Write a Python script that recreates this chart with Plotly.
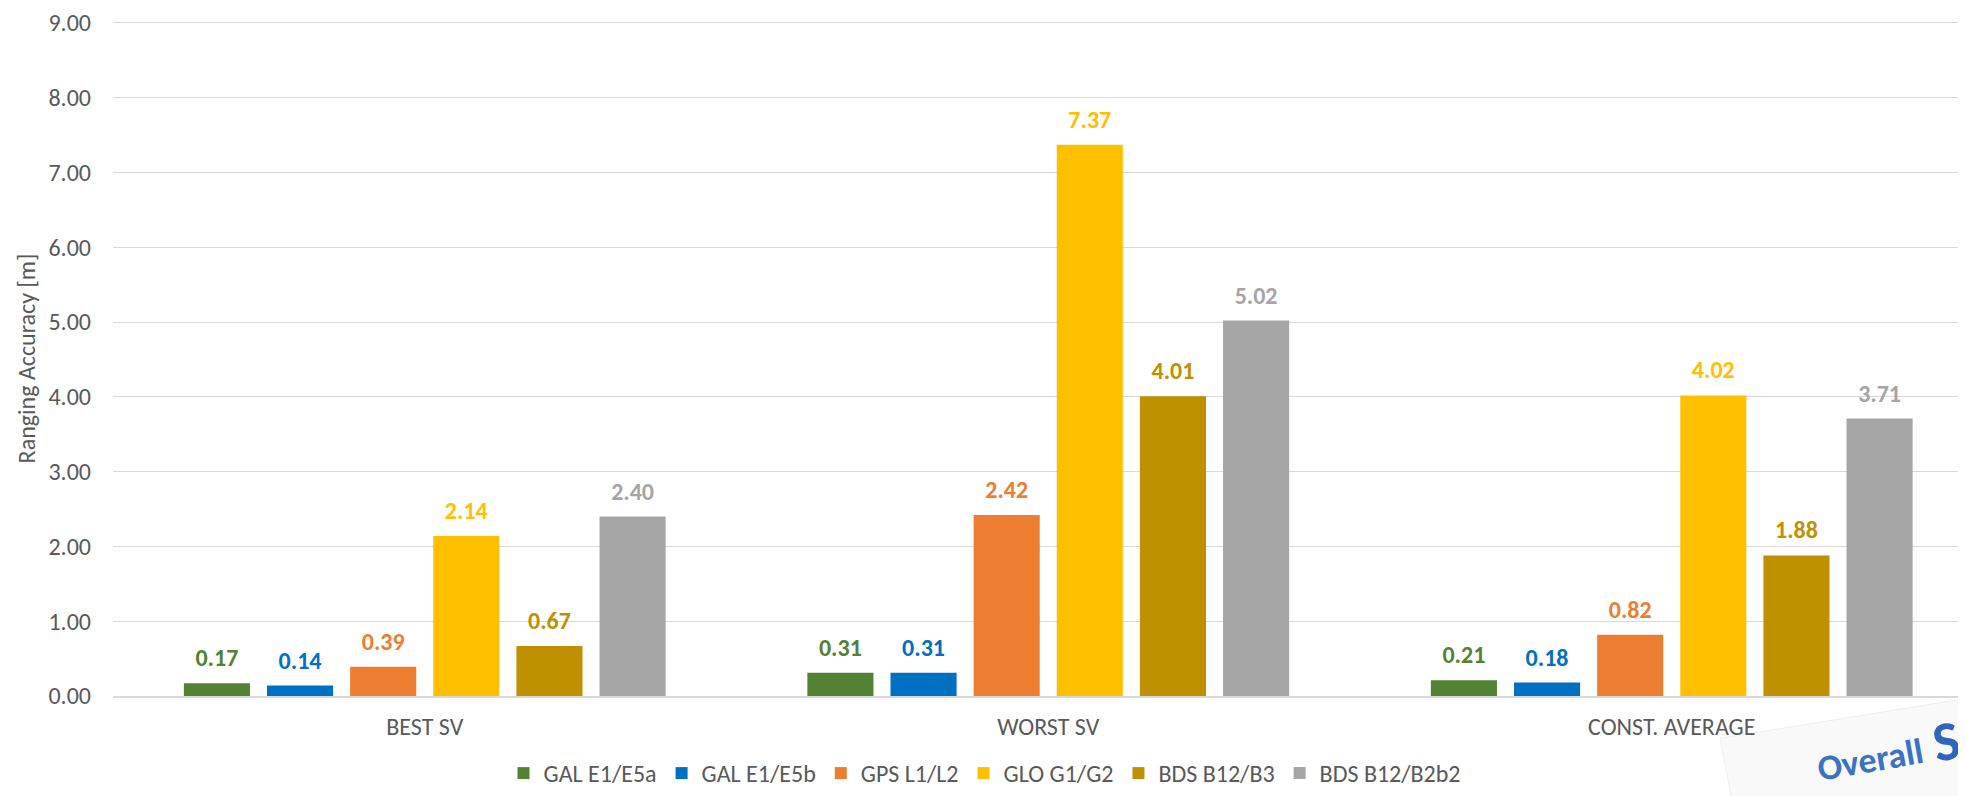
import plotly.graph_objects as go

categories = ["BEST SV", "WORST SV", "CONST. AVERAGE"]
series_names = ["GAL E1/E5a", "GAL E1/E5b", "GPS L1/L2", "GLO G1/G2", "BDS B12/B3", "BDS B12/B2b2"]
gal_e1e5a = [0.17, 0.31, 0.21]
gal_e1e5b = [0.14, 0.31, 0.18]
gps_l1l2 = [0.39, 2.42, 0.82]
glo_g1g2 = [2.14, 7.37, 4.02]
bds_b12b3 = [0.67, 4.01, 1.88]
bds_b12b2b2 = [2.40, 5.02, 3.71]
y_ticks = [0, 1, 2, 3, 4, 5, 6, 7, 8, 9]

series_values = [gal_e1e5a, gal_e1e5b, gps_l1l2, glo_g1g2, bds_b12b3, bds_b12b2b2]
colors = ["#548235", "#0070C0", "#ED7D31", "#FFC000", "#BF9000", "#A5A5A5"]

FONT = "Carlito, Calibri, Lato, sans-serif"
BODY = 8  # default page body margin
W, H = 1966 - BODY, 796 - BODY
ML, MR, MT, MB = 113 - BODY, 0, 14 - BODY, 97
PW, PH = W - ML - MR, H - MT - MB
PX_PER_UNIT = (699 - 16) / 9.0
Y_MAX = 9 + 2 / PX_PER_UNIT  # keep top gridline just inside plot area


def px_x(x):
    return (x - BODY - ML) / PW


def px_y(y):
    return (H - MB - (y - BODY)) / PH


fig = go.Figure()
for i, (name, vals, col) in enumerate(zip(series_names, series_values, colors)):
    fig.add_trace(go.Bar(
        x=categories, y=vals, name=name, marker_color=col,
        marker_line_width=0, offsetgroup=str(i), hoverinfo="skip",
    ))
for i, (name, vals, col) in enumerate(zip(series_names, series_values, colors)):
    fig.add_trace(go.Scatter(
        x=categories, y=vals, mode="markers+text", offsetgroup=str(i),
        marker=dict(size=16, opacity=0, color=col),
        text=[f"{v:.2f}" for v in vals], textposition="top center",
        textfont=dict(family=FONT, size=24, color=col, weight="bold"),
        showlegend=False, hoverinfo="skip", cliponaxis=False,
    ))

fig.update_layout(
    width=W, height=H, autosize=False,
    margin=dict(l=ML, r=MR, t=MT, b=MB, pad=0),
    paper_bgcolor="white", plot_bgcolor="white",
    barmode="group", bargap=0.2, bargroupgap=0.205,
    scattermode="group", scattergap=0.2,
    font=dict(family=FONT, size=24, color="#595959"),
    xaxis=dict(
        type="category", range=[-0.5, -0.5 + PW / 623.5], showgrid=False,
        showline=True, linecolor="#D9D9D9", linewidth=1.5, zeroline=False,
        tickfont=dict(family=FONT, size=24, color="#595959"),
        ticklabelstandoff=8, fixedrange=True,
    ),
    yaxis=dict(
        range=[0, Y_MAX], tickvals=y_ticks, tickformat=".2f",
        showgrid=True, gridcolor="#D9D9D9", gridwidth=1.3,
        zeroline=False, showline=False, ticklabeloverflow="allow",
        tickfont=dict(family=FONT, size=24, color="#595959"),
        ticklabelstandoff=21,
        title=dict(text="Ranging Accuracy [m]", standoff=6,
                   font=dict(family=FONT, size=24, color="#595959")),
    ),
    legend=dict(
        orientation="h", x=px_x(985), xanchor="center", y=px_y(778), yanchor="middle",
        font=dict(family=FONT, size=24, color="#595959"),
        itemwidth=30, bgcolor="rgba(0,0,0,0)",
    ),
    showlegend=True,
)

# faint slide corner in bottom right
fig.add_shape(
    type="path", xref="paper", yref="paper", layer="below",
    path=(f"M {px_x(1720)},{px_y(742)} L {px_x(1975)},{px_y(700)} "
          f"L {px_x(1975)},{px_y(805)} L {px_x(1732)},{px_y(805)} Z"),
    fillcolor="rgba(0,0,0,0.025)", line=dict(color="rgba(0,0,0,0.06)", width=1),
)
fig.add_annotation(
    text="Overall", xref="paper", yref="paper", x=px_x(1870), y=px_y(764),
    showarrow=False, textangle=-10, xanchor="center", yanchor="middle",
    font=dict(family=FONT, size=36, color="#3A72C4", weight="bold"),
)
fig.add_annotation(
    text="S", xref="paper", yref="paper", x=px_x(1946), y=px_y(745),
    showarrow=False, textangle=-10, xanchor="center", yanchor="middle",
    font=dict(family=FONT, size=56, color="#2F66BC", weight="bold"),
)

fig.write_html("out.html")
